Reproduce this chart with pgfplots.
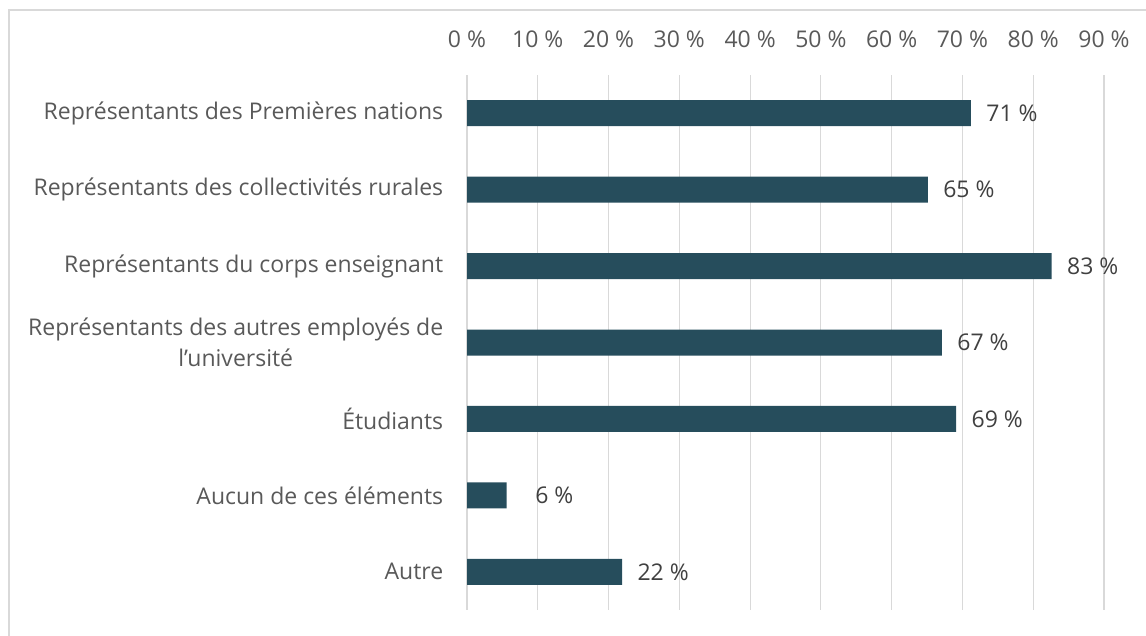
\documentclass[border=0pt]{standalone}
\usepackage{fontspec}
\setmainfont{Open Sans}
\usepackage{pgfplots}
\pgfplotsset{compat=1.18}
\definecolor{barc}{HTML}{264D5C}
\definecolor{gridc}{HTML}{D9D9D9}
\definecolor{lab}{HTML}{595959}
\definecolor{dlab}{HTML}{404040}
\begin{document}
\begin{tikzpicture}[x=1pt,y=1pt]
\path[use as bounding box] (0,0) rectangle (1146,635);
\draw[gridc, line width=1.5pt] (9,-5) -- (9,625) -- (1150,625);
\begin{axis}[
  at={(467pt,25pt)}, anchor=south west, scale only axis,
  width=637pt, height=535pt,
  xmin=0, xmax=90, ymin=-0.5, ymax=6.5, y dir=reverse,
  xbar, bar width=26pt,
  axis x line*=top, axis y line*=left,
  x axis line style={draw=none},
  y axis line style={draw=gridc, line width=1.2pt},
  xtick={0,10,...,90},
  xticklabel={\pgfmathprintnumber{\tick}~\%},
  /pgf/number format/assume math mode=true,
  xmajorgrids, grid style={gridc, line width=1.2pt},
  major x tick style={draw=none},
  ytick={0,...,6},
  yticklabels={Représentants des Premières nations, Représentants des collectivités rurales, Représentants du corps enseignant, {Représentants des autres employés de\\l’université}, Étudiants, Aucun de ces éléments, Autre},
  yticklabel style={align=center, xshift=-16pt},
  major y tick style={draw=none},
  extra y ticks={-0.5,0.5,...,6.5},
  extra y tick labels={},
  extra y tick style={major tick length=8pt, tick align=outside, tick style={draw=gridc, line width=1.2pt}, grid=none},
  every tick label/.append style={font=\fontsize{23}{31}\selectfont, text=lab},
  xticklabel style={yshift=24pt},
  point meta=explicit symbolic,
  nodes near coords,
  nodes near coords style={anchor=west, xshift=12pt, font=\fontsize{23}{31}\selectfont, text=dlab},
  clip=false,
]
\addplot[fill=barc, draw=none] coordinates {
  (71.2,0) [71 \%]
  (65.1,1) [65 \%]
  (82.6,2) [83 \%]
  (67.1,3) [67 \%]
  (69.1,4) [69 \%]
  (5.6,5) [\phantom{0}6 \%]
  (21.9,6) [22 \%]
};
\end{axis}
\end{tikzpicture}
\end{document}
